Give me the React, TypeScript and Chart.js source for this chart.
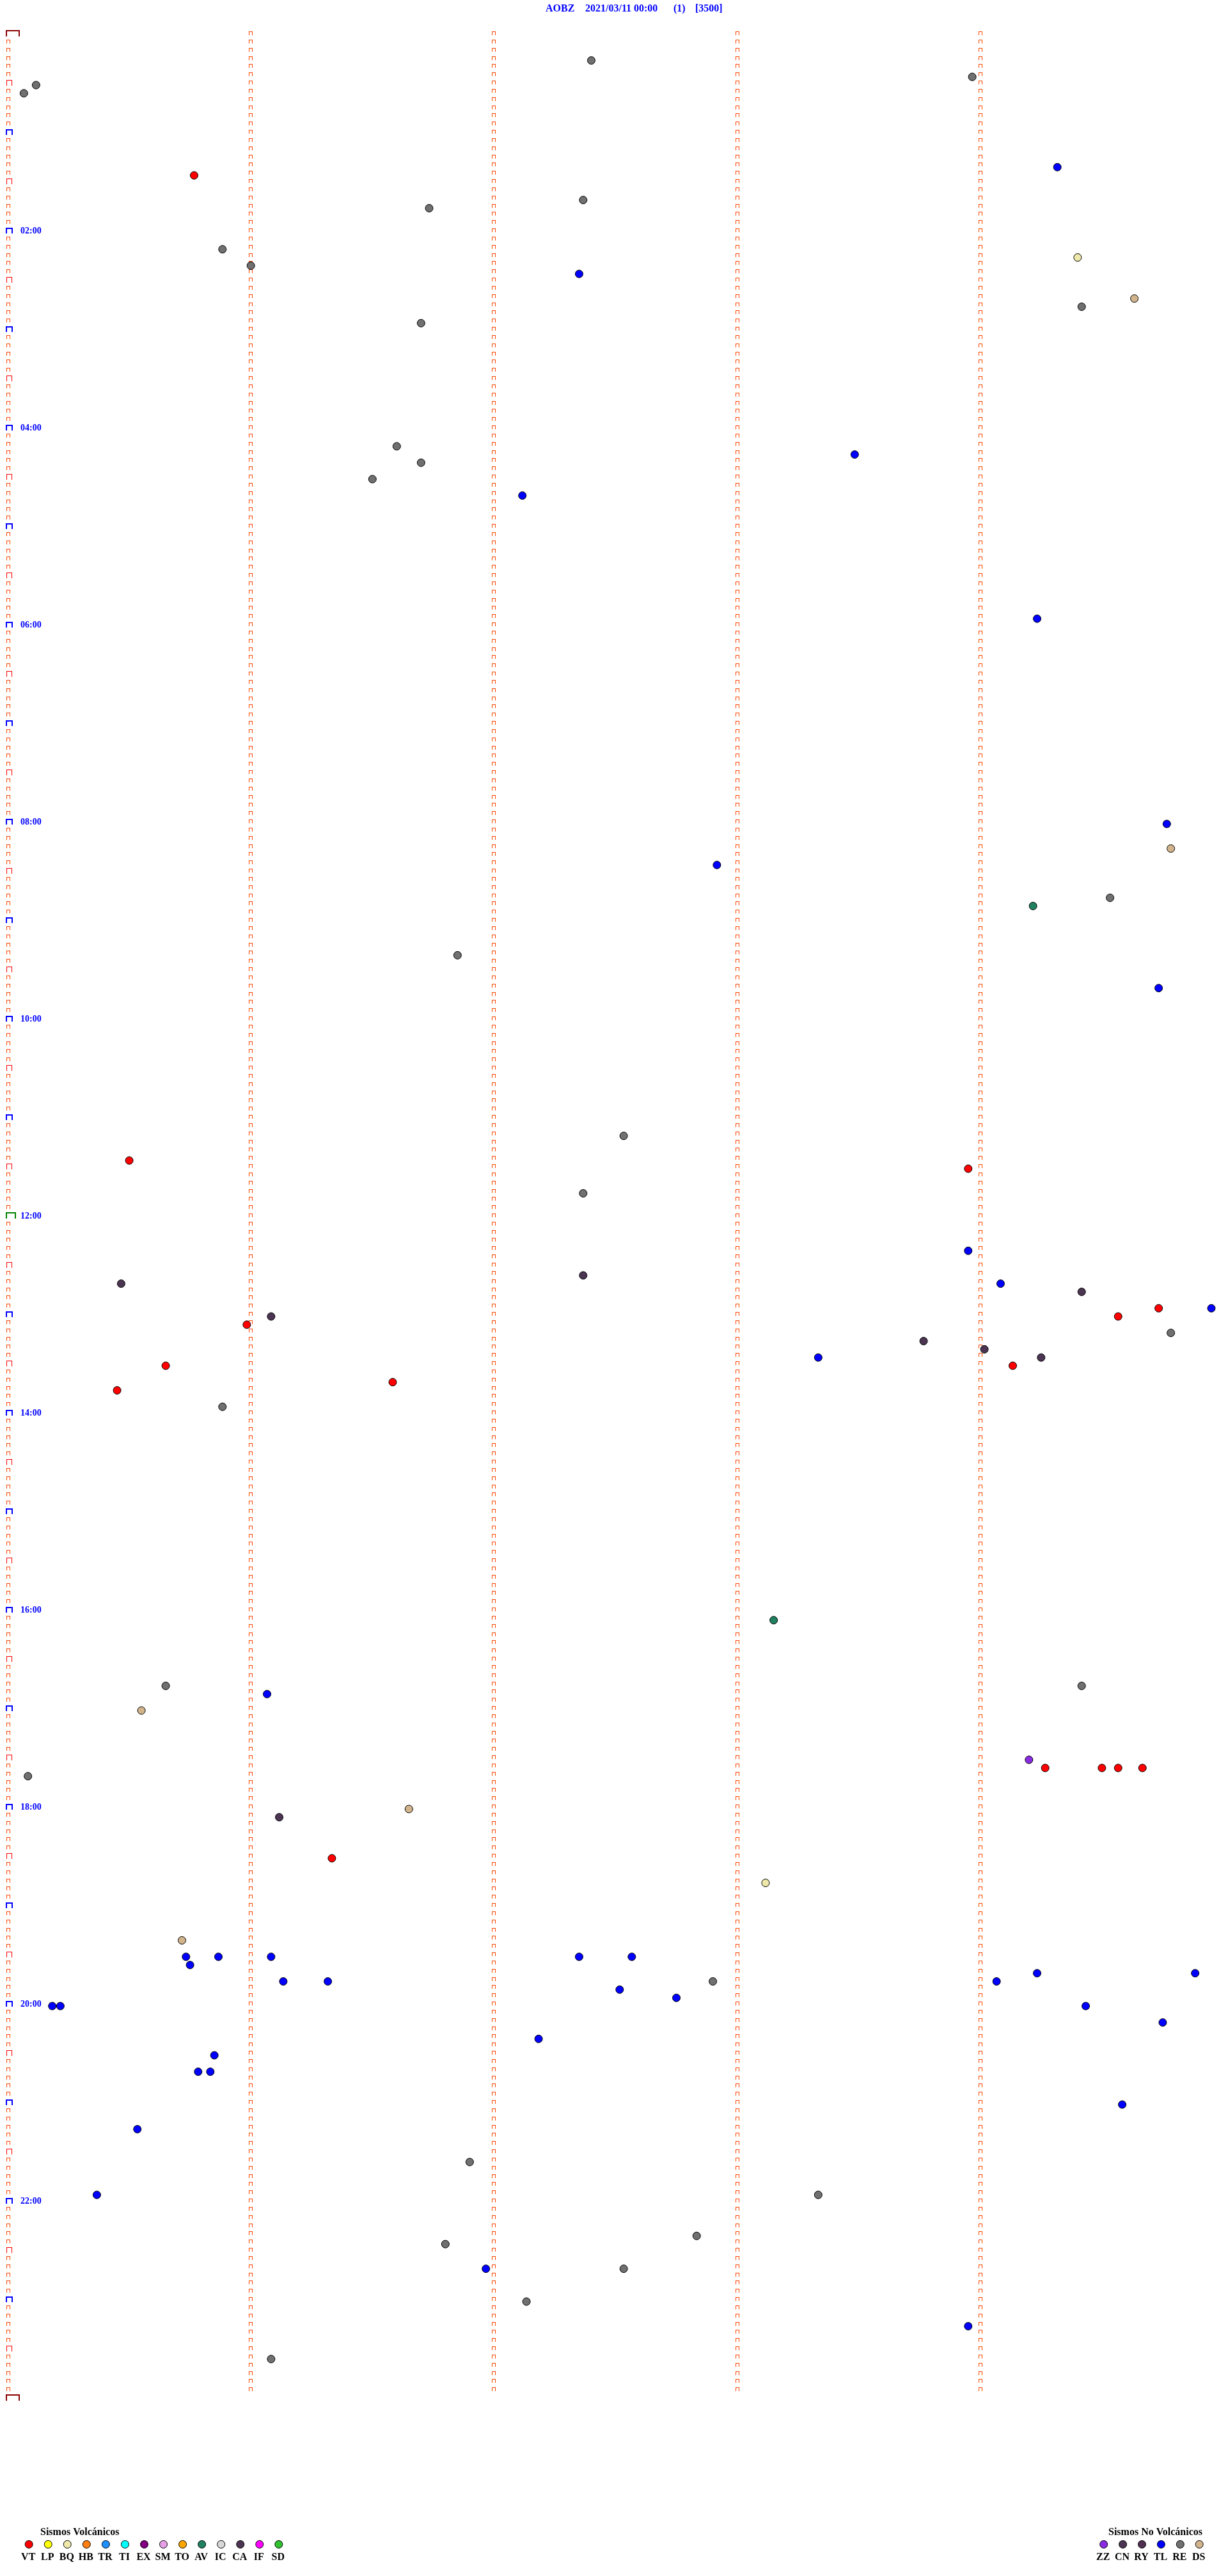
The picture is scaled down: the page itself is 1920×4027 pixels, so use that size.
import React, { useEffect, useRef } from 'react';
import { Chart, registerables } from 'chart.js';

Chart.register(...registerables);

// ---- Header ----
const STATION = 'AOBZ';
const START_TIME = '2021/03/11 00:00';
const PAGE_NO = '(1)';
const GAIN = '[3500]';

// ---- Axes ----
const ROW_MINUTES = 5; // each helicorder line spans 5 minutes
const DAY_MINUTES = 1440;
const LINE_SECONDS = 300;
const SECOND_MARKS = [60, 120, 180, 240];
const HOUR_LABELS = ['02:00', '04:00', '06:00', '08:00', '10:00', '12:00', '14:00', '16:00', '18:00', '20:00', '22:00'];

// ---- Events (time of day, HH:MM:SS) ----
const VT_TIMES = [
  '01:25:46', '11:25:30', '11:33:57', '12:59:44', '13:04:34', '13:05:59', '13:30:39', '13:34:08',
  '13:41:35', '13:45:27', '17:39:16', '17:39:30', '17:39:34', '17:39:40', '18:31:20',
];
const BQ_TIMES = ['02:19:24', '18:48:07'];
const AV_TIMES = ['08:54:13', '16:08:09'];
const ZZ_TIMES = ['17:34:12'];
const CN_TIMES = ['12:37:22', '12:40:28', '12:49:25', '13:01:05', '13:18:46', '13:24:01', '13:29:15', '18:06:07'];
const TL_TIMES = [
  '01:24:19', '02:27:21', '04:18:29', '04:42:07', '05:59:14', '08:04:46', '08:27:55', '09:44:44',
  '12:23:57', '12:44:05', '12:59:57', '13:28:20', '16:51:04', '19:30:44', '19:30:52', '19:31:05',
  '19:32:21', '19:32:34', '19:35:45', '19:44:14', '19:44:53', '19:46:08', '19:46:19', '19:49:04',
  '19:52:31', '19:57:45', '20:00:11', '20:00:13', '20:04:26', '20:14:45', '20:22:11', '20:30:51',
  '20:40:47', '20:40:50', '21:04:35', '21:15:32', '21:55:22', '22:41:58', '23:18:57',
];
const RE_TIMES = [
  '00:17:24', '00:28:58', '00:30:07', '00:35:04', '01:42:22', '01:46:44', '02:10:53', '02:21:00',
  '02:49:25', '02:56:42', '04:11:36', '04:21:42', '04:31:30', '08:49:32', '09:21:51', '11:12:32',
  '11:47:22', '13:14:47', '13:55:53', '16:45:39', '16:49:25', '17:40:05', '19:47:54', '21:36:54',
  '21:58:20', '22:22:50', '22:26:48', '22:42:32', '23:02:08', '23:36:05',
];
const DS_TIMES = ['02:44:38', '08:19:47', '17:00:33', '18:01:39', '19:20:43'];

// ---- Legend ----
const VOLCANIC_TITLE = 'Sismos Volcánicos';
const VOLCANIC_TYPES = ['VT', 'LP', 'BQ', 'HB', 'TR', 'TI', 'EX', 'SM', 'TO', 'AV', 'IC', 'CA', 'IF', 'SD'];
const VOLCANIC_COLORS = ['#FF0000', '#FFFF00', '#EEE8AA', '#FF8010', '#1E90FF', '#00FFFF', '#800080', '#E6A0E6', '#FFA500', '#208060', '#D8D8D8', '#4B3552', '#FF00FF', '#30C030'];
const NONVOLC_TITLE = 'Sismos No Volcánicos';
const NONVOLC_TYPES = ['ZZ', 'CN', 'RY', 'TL', 'RE', 'DS'];
const NONVOLC_COLORS = ['#8A2BE2', '#4B3552', '#503050', '#0000FF', '#707070', '#D2B48C'];

const SERIES: [string, string[]][] = [
  ['VT', VT_TIMES], ['BQ', BQ_TIMES], ['AV', AV_TIMES], ['ZZ', ZZ_TIMES],
  ['CN', CN_TIMES], ['RE', RE_TIMES], ['DS', DS_TIMES], ['TL', TL_TIMES],
];

const colorOf = (t: string) => {
  let i = VOLCANIC_TYPES.indexOf(t);
  if (i >= 0 && t !== 'TL') return VOLCANIC_COLORS[i];
  i = NONVOLC_TYPES.indexOf(t);
  return NONVOLC_COLORS[i];
};

const toPoint = (hms: string) => {
  const [h, m, s] = hms.split(':').map(Number);
  const total = h * 3600 + m * 60 + s;
  return { x: total % LINE_SECONDS, y: Math.floor(total / LINE_SECONDS) * ROW_MINUTES };
};

const SERIF = '"Liberation Serif", "Times New Roman", serif';

const heliPlugin = {
  id: 'heli',
  beforeDatasetsDraw(chart: any) {
    const { ctx, scales } = chart;
    const xs = scales.x;
    const ys = scales.y;
    ctx.save();
    const bracket = (left: number, cy: number, w: number, h: number, t: number, color: string) => {
      const top = Math.round(cy - h / 2);
      const l = Math.round(left);
      ctx.fillStyle = color;
      ctx.fillRect(l, top, w, t);
      ctx.fillRect(l, top, t, h);
      ctx.fillRect(l + w - t, top, t, h);
    };
    const nRows = DAY_MINUTES / ROW_MINUTES;
    const x0 = xs.getPixelForValue(0);
    for (let r = 0; r <= nRows; r++) {
      const m = r * ROW_MINUTES;
      const cy = ys.getPixelForValue(m) - 4;
      if (m === 0 || m === DAY_MINUTES) bracket(x0 - 3, cy, 22, 10, 2, '#8B0000');
      else if (m === 720) bracket(x0 - 3, cy, 16, 10, 2, '#008000');
      else if (m % 60 === 0) bracket(x0 - 3, cy, 11, 9, 2, '#0000FF');
      else if (m % 30 === 0) bracket(x0 - 2, cy, 9, 9, 1, '#FF0000');
      else bracket(x0 - 2, cy, 6, 6, 1, '#FF4500');
      if (r < nRows) {
        for (const s of SECOND_MARKS) {
          const px = xs.getPixelForValue(s);
          bracket(px - 3, cy, 6, 6, 1, '#FF4500');
        }
      }
    }
    ctx.fillStyle = '#0000FF';
    ctx.font = 'bold 14px ' + SERIF;
    ctx.textAlign = 'left';
    ctx.textBaseline = 'alphabetic';
    for (const lbl of HOUR_LABELS) {
      const m = parseInt(lbl.slice(0, 2), 10) * 60;
      const cy = ys.getPixelForValue(m) - 4;
      ctx.fillText(lbl, x0 + 20, cy + 4.5);
    }
    ctx.restore();
  },
  afterDraw(chart: any) {
    const { ctx } = chart;
    ctx.save();
    // header
    ctx.fillStyle = '#0000FF';
    ctx.font = 'bold 16px ' + SERIF;
    ctx.textAlign = 'left';
    ctx.textBaseline = 'alphabetic';
    ctx.fillText(STATION, 853, 18);
    ctx.fillText(START_TIME, 915, 18);
    ctx.fillText(PAGE_NO, 1053, 18);
    ctx.fillText(GAIN, 1087, 18);

    const drawGroup = (title: string, titleX: number, types: string[], colors: string[], x0: number, step: number) => {
      ctx.fillStyle = '#000';
      ctx.font = 'bold 16px ' + SERIF;
      ctx.textAlign = 'left';
      ctx.fillText(title, titleX, 3963);
      types.forEach((t, i) => {
        const cx = x0 + i * step;
        ctx.beginPath();
        ctx.arc(cx, 3977.5, 6, 0, Math.PI * 2);
        ctx.fillStyle = colors[i];
        ctx.fill();
        ctx.lineWidth = 1;
        ctx.strokeStyle = '#000';
        ctx.stroke();
        ctx.fillStyle = '#000';
        ctx.textAlign = 'center';
        ctx.fillText(t, cx - 1, 4002);
      });
    };
    drawGroup(VOLCANIC_TITLE, 63, VOLCANIC_TYPES, VOLCANIC_COLORS, 45.2, 30.05);
    drawGroup(NONVOLC_TITLE, 1733, NONVOLC_TYPES, NONVOLC_COLORS, 1725.7, 29.9);
    ctx.restore();
  },
};

export default function App() {
  const ref = useRef<HTMLCanvasElement>(null);
  useEffect(() => {
    const canvas = ref.current;
    if (!canvas) return;
    const chart = new Chart(canvas, {
      type: 'scatter',
      data: {
        datasets: SERIES.map(([type, times]) => ({
          label: type,
          data: times.map(toPoint),
          backgroundColor: colorOf(type),
          borderColor: '#000000',
          borderWidth: 1,
          pointRadius: 6,
          pointHoverRadius: 6,
          clip: false as any,
        })),
      },
      options: {
        animation: false,
        responsive: false,
        devicePixelRatio: 1,
        events: [],
        layout: { padding: { top: 56, bottom: 275, left: 12, right: 7 } },
        scales: {
          x: { type: 'linear', min: 0, max: LINE_SECONDS, display: false },
          y: { type: 'linear', min: 0, max: DAY_MINUTES, reverse: true, display: false },
        },
        plugins: {
          legend: { display: false },
          tooltip: { enabled: false },
          title: { display: false },
        },
      },
      plugins: [heliPlugin],
    } as any);
    return () => chart.destroy();
  }, []);
  return (
    <div style={{ position: 'absolute', left: 0, top: 0, width: 1920, height: 4027, background: '#ffffff' }}>
      <canvas ref={ref} width={1920} height={4027} style={{ display: 'block', width: 1920, height: 4027 }} />
    </div>
  );
}
